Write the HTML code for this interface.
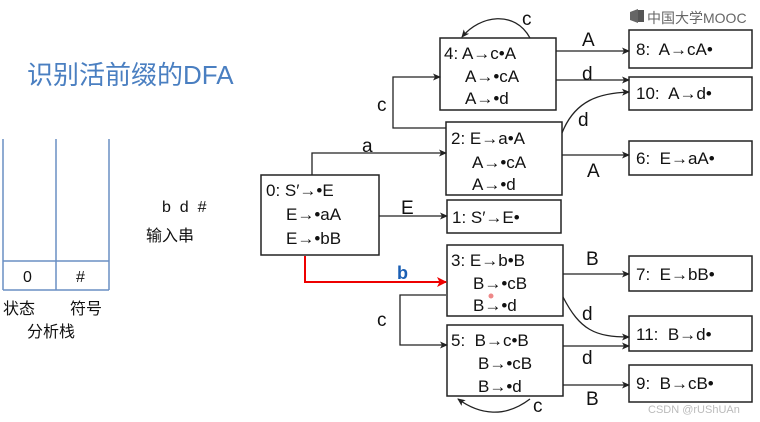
<!DOCTYPE html>
<html><head><meta charset="utf-8"><style>
html,body{margin:0;padding:0;background:#fff;}
svg{display:block;}
text{font-family:"Liberation Sans","Noto Sans CJK SC",sans-serif;white-space:pre;}
</style></head><body>
<svg width="760" height="422" viewBox="0 0 760 422" xmlns="http://www.w3.org/2000/svg" xml:space="preserve">
<defs>
<marker id="ar" markerWidth="8" markerHeight="8" refX="7" refY="4" orient="auto" markerUnits="userSpaceOnUse"><path d="M0,0.5 L8,4 L0,7.5 L2,4z" fill="#222"/></marker>
<marker id="rr" markerWidth="10" markerHeight="10" refX="9" refY="5" orient="auto" markerUnits="userSpaceOnUse"><path d="M0,0 L10,5 L0,10 L2.5,5z" fill="#e00"/></marker>
</defs>
<path d="M630,12 l8,-3 v14 l-8,-3z" fill="#666"/><rect x="638" y="10" width="6" height="12" fill="#555"/>
<text x="647" y="23" font-size="14" fill="#666">中国大学MOOC</text>
<text x="27" y="84" font-size="26" fill="#4a7fc1">识别活前缀的DFA</text>
<g stroke="#6a8fc4" stroke-width="1.5" fill="none">
<line x1="3" y1="139" x2="3" y2="290"/><line x1="56" y1="139" x2="56" y2="290"/><line x1="109" y1="139" x2="109" y2="290"/>
<line x1="3" y1="261" x2="109" y2="261"/><line x1="3" y1="290" x2="109" y2="290"/>
</g>
<g font-size="16" fill="#111">
<text x="23" y="282">0</text><text x="76" y="282">#</text>
<text x="3" y="314">状态</text><text x="70" y="314">符号</text><text x="27" y="337">分析栈</text>
<text x="162" y="212">b  d  #</text><text x="146" y="241">输入串</text>
</g>
<g fill="#fff" stroke="#222" stroke-width="1.5">
<rect x="261" y="175" width="118" height="80"/>
<rect x="440" y="38" width="116" height="72"/>
<rect x="446" y="122" width="116" height="73"/>
<rect x="447" y="200" width="114" height="33"/>
<rect x="447" y="245" width="116" height="71"/>
<rect x="447" y="325" width="116" height="71"/>
<rect x="629" y="30" width="123" height="38"/>
<rect x="629" y="77" width="123" height="33"/>
<rect x="629" y="141" width="123" height="34"/>
<rect x="629" y="256" width="123" height="35"/>
<rect x="629" y="316" width="123" height="35"/>
<rect x="629" y="365" width="123" height="37"/>
</g>
<g font-size="17" fill="#111">
<text x="266" y="196">0: S′→•E</text><text x="286" y="220">E→•aA</text><text x="286" y="244">E→•bB</text>
<text x="444" y="59">4: A→c•A</text><text x="465" y="82">A→•cA</text><text x="465" y="104">A→•d</text>
<text x="451" y="144">2: E→a•A</text><text x="472" y="168">A→•cA</text><text x="472" y="190">A→•d</text>
<text x="452" y="223">1: S′→E•</text>
<text x="451" y="266">3: E→b•B</text><text x="473" y="289">B→•cB</text><text x="473" y="311">B→•d</text>
<text x="451" y="346">5:  B→c•B</text><text x="478" y="369">B→•cB</text><text x="478" y="392">B→•d</text>
<text x="636" y="55">8:  A→cA•</text>
<text x="636" y="99">10:  A→d•</text>
<text x="636" y="164">6:  E→aA•</text>
<text x="636" y="280">7:  E→bB•</text>
<text x="636" y="340">11:  B→d•</text>
<text x="636" y="389">9:  B→cB•</text>
</g>
<g stroke="#222" stroke-width="1.3" fill="none" marker-end="url(#ar)">
<path d="M312,175 V153 H446"/>
<path d="M446,128 H393 V77 H440"/>
<path d="M530,38 C515,10 480,15 462,37"/>
<path d="M556,51 H629"/>
<path d="M556,80 H629"/>
<path d="M562,133 C575,100 600,93 629,92"/>
<path d="M562,155 H629"/>
<path d="M379,216 H447"/>
<path d="M446,295 H400 V345 H447"/>
<path d="M563,274 H629"/>
<path d="M563,297 C580,330 595,337 629,337"/>
<path d="M563,346 H629"/>
<path d="M563,385 H629"/>
<path d="M530,399 C505,418 480,415 458,399"/>
</g>
<path d="M305,256 V282 H446" stroke="#e00" stroke-width="2" fill="none" marker-end="url(#rr)"/>
<circle cx="491" cy="296" r="2.5" fill="#e88"/>
<g font-size="19" fill="#111">
<text x="362" y="152">a</text>
<text x="377" y="111">c</text>
<text x="522" y="25">c</text>
<text x="582" y="46">A</text>
<text x="582" y="80">d</text>
<text x="578" y="126">d</text>
<text x="587" y="177">A</text>
<text x="401" y="214">E</text>
<text x="377" y="326">c</text>
<text x="586" y="265">B</text>
<text x="582" y="320">d</text>
<text x="582" y="364">d</text>
<text x="586" y="405">B</text>
<text x="533" y="412">c</text>
</g>
<text x="397" y="279" font-size="18" font-weight="bold" fill="#1a5fb4">b</text>
<text x="648" y="413" font-size="11" fill="#bbb">CSDN @rUShUAn</text>
</svg>
</body></html>
